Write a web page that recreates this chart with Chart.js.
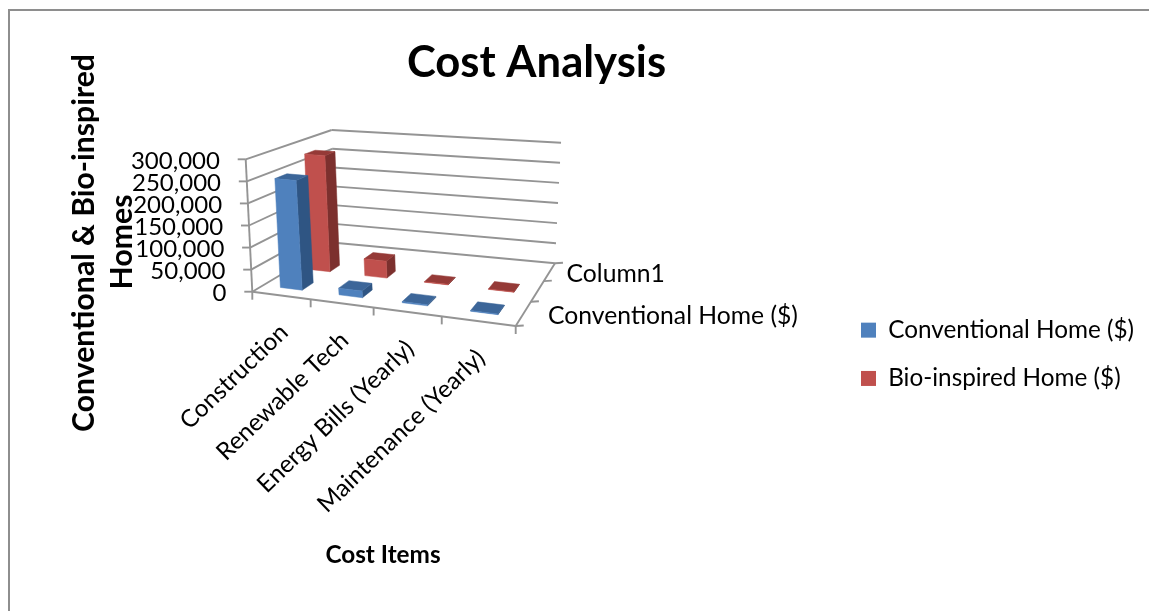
<!DOCTYPE html>
<html>
<head>
<meta charset="utf-8">
<title>Cost Analysis</title>
<style>
    html, body { margin: 0; padding: 0; background: #fff; overflow: hidden; }
    #frame { position: absolute; left: 8px; top: 9px; width: 1200px; height: 700px; border: 2px solid #8e8e8e; }
    #costChart { position: absolute; left: 0; top: 0; }
</style>
</head>
<body>
<div id="frame"></div>
<canvas id="costChart" width="1149" height="611"></canvas>

<script src="https://cdn.jsdelivr.net/npm/chart.js"></script>
<script>
    const categories = ["Construction", "Renewable Tech", "Energy Bills (Yearly)", "Maintenance (Yearly)"];
    const conventional = [250000, 15000, 2500, 1500];
    const bioInspired = [280000, 40000, 1200, 800];
    const depthLabels = ["Conventional Home ($)", "", "Column1"];

    const frontColors = ["#4f81bd", "#c0504d"];
    const sideColors = ["#2f5583", "#7c302e"];
    const topColors = ["#3c6699", "#953a37"];
    const wallColor = "#949494";
    const font = "Lato";

    // unit square -> quad, corners in order (0,0) (1,0) (1,1) (0,1)
    const squareToQuad = ([p0, p1, p2, p3]) => {
        const dx1 = p1[0] - p2[0], dx2 = p3[0] - p2[0], sx = p0[0] - p1[0] + p2[0] - p3[0];
        const dy1 = p1[1] - p2[1], dy2 = p3[1] - p2[1], sy = p0[1] - p1[1] + p2[1] - p3[1];
        const den = dx1 * dy2 - dx2 * dy1;
        const g = (sx * dy2 - dx2 * sy) / den, h = (dx1 * sy - sx * dy1) / den;
        const a = p1[0] - p0[0] + g * p1[0], b = p3[0] - p0[0] + h * p3[0];
        const d = p1[1] - p0[1] + g * p1[1], e = p3[1] - p0[1] + h * p3[1];
        return (u, w) => {
            const k = g * u + h * w + 1;
            return [(a * u + b * w + p0[0]) / k, (d * u + e * w + p0[1]) / k];
        };
    };

    const floorAt = squareToQuad([[252.3, 291.7], [515.7, 326], [555, 263.3], [334.5, 242.7]]);
    const roofAt = squareToQuad([[245.7, 159.3], [521, 184.3], [561, 142.7], [331.7, 130]]);

    const project = (u, w, v) => {
        const f = floorAt(u, w), r = roofAt(u, w);
        return [f[0] + (r[0] - f[0]) * v, f[1] + (r[1] - f[1]) * v];
    };

    const line = (ctx, a, b) => {
        ctx.beginPath();
        ctx.moveTo(a[0], a[1]);
        ctx.lineTo(b[0], b[1]);
        ctx.stroke();
    };

    const face = (ctx, pts, color) => {
        ctx.fillStyle = color;
        ctx.strokeStyle = color;
        ctx.lineWidth = 0.5;
        ctx.beginPath();
        pts.forEach((p, i) => i ? ctx.lineTo(p[0], p[1]) : ctx.moveTo(p[0], p[1]));
        ctx.closePath();
        ctx.fill();
        ctx.stroke();
    };

    const text = (ctx, str, x, y, size, opts = {}) => {
        ctx.save();
        ctx.translate(x, y);
        ctx.rotate((opts.angle || 0) * Math.PI / 180);
        ctx.font = `${opts.bold ? "bold " : ""}${size}px ${font}`;
        ctx.fillStyle = "#000";
        ctx.textAlign = opts.align || "center";
        ctx.textBaseline = "middle";
        ctx.fillText(str, 0, 0);
        ctx.restore();
    };

    const toUnit = (px, area) => (px - area.left) / (area.right - area.left);
    const toValue = (px, area) => (area.bottom - px) / (area.bottom - area.top);

    const drawWalls = (chart) => {
        const { ctx, scales: { y }, chartArea: area } = chart;
        ctx.save();
        ctx.strokeStyle = wallColor;
        ctx.lineWidth = 1.9;

        // value gridlines over the side and back wall, with a stub on the axis
        y.ticks.forEach((t) => {
            const v = toValue(y.getPixelForValue(t.value), area);
            const front = project(0, 0, v);
            line(ctx, [front[0] - 8, front[1]], front);
            line(ctx, front, project(0, 1, v));
            line(ctx, project(0, 1, v), project(1, 1, v));
        });
        line(ctx, project(0, 0, 0), project(0, 0, 1));

        // floor edges
        line(ctx, project(0, 0, 0), project(1, 0, 0));
        line(ctx, project(1, 0, 0), project(1, 1, 0));

        // category ticks along the front edge
        for (let i = 0; i <= categories.length; i++) {
            const p = project(i / categories.length, 0, 0);
            line(ctx, p, [p[0], p[1] + 8]);
        }
        // series ticks along the right edge
        for (let i = 0; i <= depthLabels.length; i++) {
            const p = project(1, i / depthLabels.length, 0);
            line(ctx, p, [p[0] + 8, p[1] - 0.5]);
        }
        ctx.restore();
    };

    const drawBars = (chart) => {
        const { ctx, chartArea: area } = chart;
        const rows = depthLabels.length;

        for (let s = chart.data.datasets.length - 1; s >= 0; s--) {
            const w0 = (s + 0.33) / rows, w1 = (s + 0.71) / rows;
            const bars = chart.getDatasetMeta(s).data;
            for (let i = bars.length - 1; i >= 0; i--) {
                const bar = bars[i];
                const u0 = toUnit(bar.x - bar.width / 2, area), u1 = toUnit(bar.x + bar.width / 2, area);
                const v0 = toValue(bar.base, area), v1 = toValue(bar.y, area);
                face(ctx, [project(u1, w0, v0), project(u1, w1, v0), project(u1, w1, v1), project(u1, w0, v1)], sideColors[s]);
                face(ctx, [project(u0, w0, v1), project(u1, w0, v1), project(u1, w1, v1), project(u0, w1, v1)], topColors[s]);
                face(ctx, [project(u0, w0, v0), project(u1, w0, v0), project(u1, w0, v1), project(u0, w0, v1)], frontColors[s]);
            }
        }
    };

    const drawAxisText = (chart) => {
        const { ctx, scales: { x, y }, chartArea: area } = chart;

        // the value labels follow the slant of the front edge
        y.ticks.forEach((t) => {
            const p = project(0, 0, toValue(y.getPixelForValue(t.value), area));
            text(ctx, t.label, p[0] - 25.8, p[1] + 1.5, 24, { align: "right" });
        });

        categories.forEach((label, i) => {
            const p = project(toUnit(x.getPixelForTick(i), area), 0, 0);
            text(ctx, label, p[0] + 3, p[1] + 33, 24.3, { angle: -44, align: "right" });
        });

        depthLabels.forEach((label, i) => {
            if (!label) return;
            const p = project(1, (i + 0.5) / depthLabels.length, 0);
            text(ctx, label, p[0] + (i ? 17 : 24.5), p[1] + 2.5, 24.7, { align: "left" });
        });

        text(ctx, "Conventional & Bio-inspired", 84, 243, 30.2, { bold: true, angle: -90 });
        text(ctx, "Homes", 122, 242, 30.2, { bold: true, angle: -90 });
        text(ctx, "Cost Items", 383, 555, 24.3, { bold: true });
    };

    const view3d = {
        id: "view3d",
        afterLayout(chart) {
            chart.titleBlock.left -= 38;
            chart.titleBlock.right -= 38;
            chart.legend.left = 861 - chart.options.plugins.legend.labels.padding;
            chart.legend.top = 294;
        },
        beforeDatasetsDraw(chart) {
            drawWalls(chart);
            drawBars(chart);
            drawAxisText(chart);
            return false;
        }
    };

    new Chart(document.getElementById("costChart"), {
        type: "bar",
        data: {
            labels: categories,
            datasets: [
                { label: "Conventional Home ($)", data: conventional, backgroundColor: frontColors[0], grouped: false, barPercentage: 0.38, categoryPercentage: 1 },
                { label: "Bio-inspired Home ($)", data: bioInspired, backgroundColor: frontColors[1], grouped: false, barPercentage: 0.38, categoryPercentage: 1 }
            ]
        },
        plugins: [view3d],
        options: {
            responsive: false,
            animation: false,
            events: [],
            scales: {
                x: {
                    grid: { display: false },
                    border: { display: false },
                    ticks: { display: false },
                    afterFit(s) { s.height = 319.3; }
                },
                y: {
                    min: 0,
                    max: 300000,
                    afterFit(s) { s.width = 240; },
                    grid: { display: false, drawTicks: false },
                    border: { display: false },
                    ticks: { display: false, stepSize: 50000, autoSkip: false }
                }
            },
            plugins: {
                title: {
                    display: true,
                    text: "Cost Analysis",
                    color: "#000",
                    font: { family: font, size: 43.6, weight: "bold", lineHeight: 1.2 },
                    padding: { top: 37, bottom: 70 }
                },
                legend: {
                    position: "right",
                    align: "start",
                    labels: { boxWidth: 15, boxHeight: 15, padding: 24, color: "#000", font: { family: font, size: 24.3 } }
                },
                tooltip: { enabled: false }
            }
        }
    });
</script>
</body>
</html>
